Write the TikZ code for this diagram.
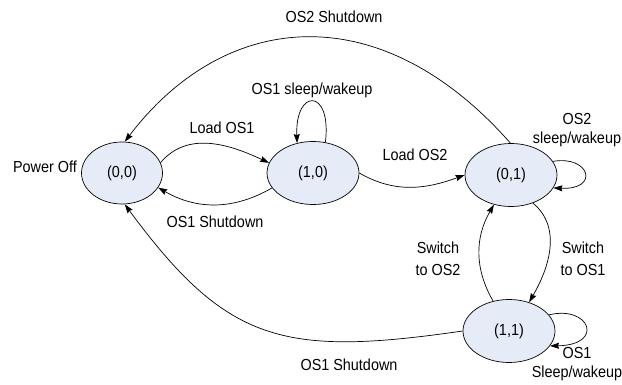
\documentclass[tikz,border=0pt]{standalone}
\usepackage{fontspec}
\setmainfont{Liberation Sans}[FakeStretch=0.9]
\usetikzlibrary{shapes.geometric,arrows.meta}
\definecolor{statefill}{RGB}{230,236,247}
\begin{document}
\begin{tikzpicture}[x=1pt,y=1pt,
  state/.style={ellipse,draw=black,line width=0.7pt,fill=statefill,minimum width=92pt,minimum height=63pt,inner sep=0pt,font=\fontsize{16}{18}\selectfont},
  lbl/.style={font=\fontsize{16}{19}\selectfont,align=center,inner sep=0pt},
  arr/.style={line width=0.7pt,-{Stealth[length=9pt,width=6pt,inset=1pt]}}]
\useasboundingbox (0,0) rectangle (622,-385);
\node[state,minimum width=81pt,minimum height=62pt] (A) at (122,-173) {(0,0)};
\node[state] (B) at (313,-173) {(1,0)};
\node[state] (C) at (511,-175) {(0,1)};
\node[state] (D) at (509,-331) {(1,1)};

\draw[arr] (A.15) to[out=50,in=155] (B.167);
\draw[arr] (B.200) to[out=210,in=-30] (A.-22);
\draw[arr] (B.68) .. controls (332,-88) and (295,-88) .. (B.118);
\draw[arr] (B.0) to[out=-30,in=200] (C.180);
\draw[arr] (C.91) .. controls (380,5) and (225,-10) .. (A.85);
\draw[arr] (C.18) .. controls (590,-155) and (600,-190) .. (C.-17);
\draw[arr] (C.-52) to[out=-40,in=60] (D.55);
\draw[arr] (D.118) to[out=120,in=240] (C.-120);
\draw[arr] (D.180) .. controls (283,-357) and (227,-343) .. (A.-85);
\draw[arr] (D.22) .. controls (590,-305) and (605,-345) .. (D.-20);

\node[lbl] (l1) at (334,-17) {OS2 Shutdown};
\node[lbl] (l2) at (312,-90) {OS1 sleep/wakeup};
\node[lbl] (l3) at (222,-128) {Load OS1};
\node[lbl] (l4) at (45,-167) {Power Off};
\node[lbl] (l5) at (415,-155) {Load OS2};
\node[lbl] (l6) at (577,-130) {OS2\\sleep/wakeup};
\node[lbl] (l7) at (215,-222) {OS1 Shutdown};
\node[lbl,font=\fontsize{16}{21.5}\selectfont] (l8) at (438,-259) {Switch\\to OS2};
\node[lbl,font=\fontsize{16}{21.5}\selectfont] (l9) at (583,-259) {Switch\\to OS1};
\node[lbl] (l10) at (349,-365) {OS1 Shutdown};
\node[lbl] (l11) at (577,-364) {OS1\\Sleep/wakeup};
\end{tikzpicture}
\end{document}
